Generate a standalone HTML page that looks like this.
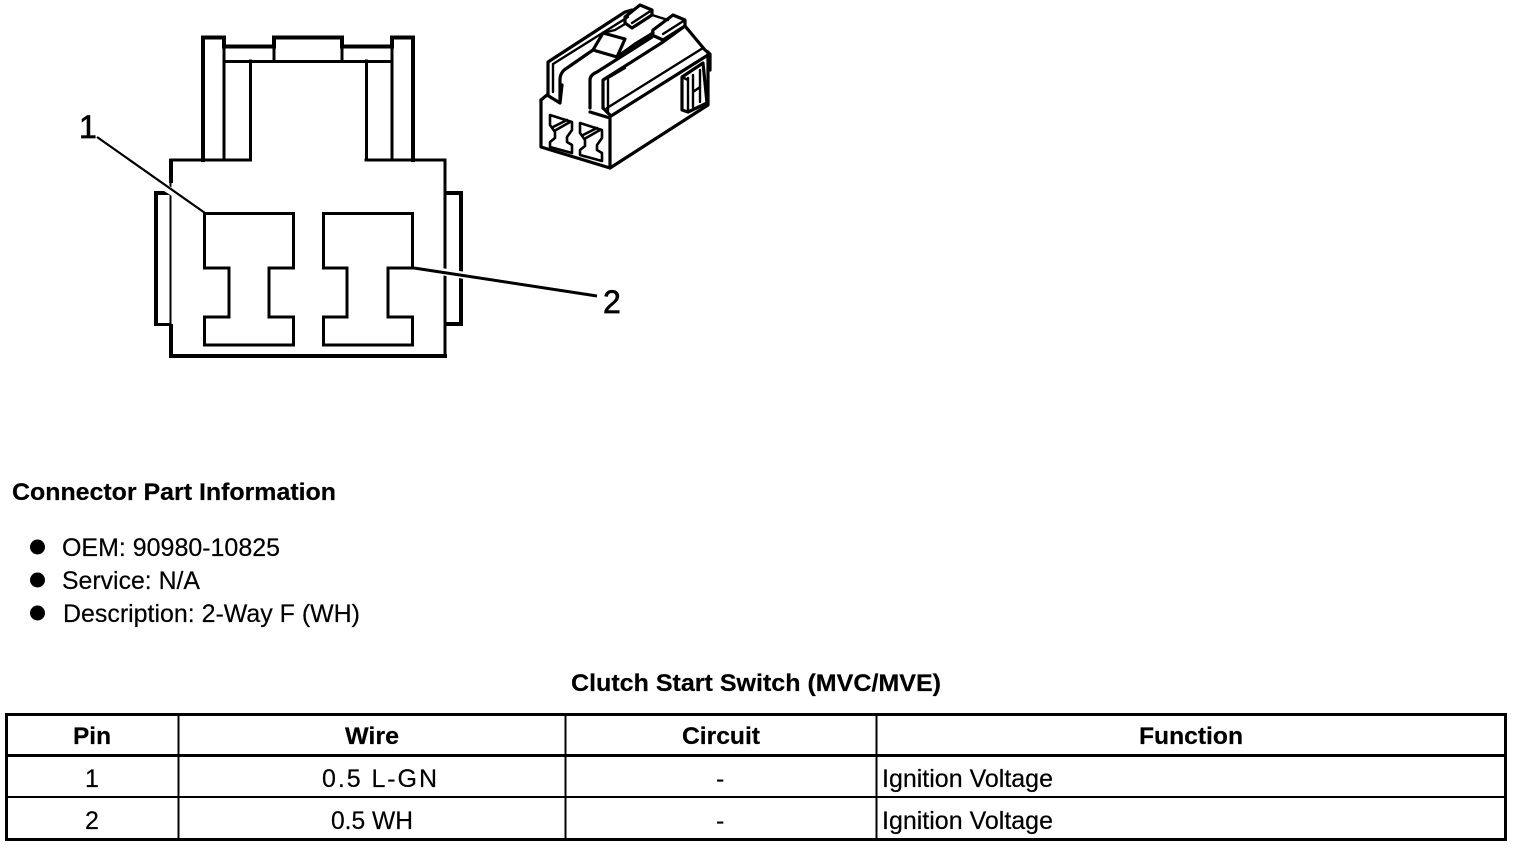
<!DOCTYPE html>
<html><head><meta charset="utf-8"><style>
html,body{margin:0;padding:0;background:#fff;width:1520px;height:848px;overflow:hidden}
svg{display:block}
text{font-family:"Liberation Sans",sans-serif;fill:#000;font-size:25px;stroke:#000;stroke-width:.2px}
.b{font-weight:bold;font-size:24px}
.n{font-size:32px;stroke-width:.7px}
</style></head><body>
<svg width="1520" height="848" viewBox="0 0 1520 848" xmlns="http://www.w3.org/2000/svg">
<rect width="1520" height="848" fill="#fff"/>
<!-- connector front view -->
<g fill="none" stroke="#000" stroke-linecap="square" stroke-linejoin="miter" shape-rendering="crispEdges">
<path stroke-width="4" d="M203 160V37.500H224V46.500H274V37.500H342V46.500H392V37.500H413V160"/>
<path stroke-width="3" d="M224 46V160M392 46V160M224 61.500H392M274 37V61M342 37V61M250.500 61V160M366.500 61V160"/>
<path stroke-width="3" d="M171 160H250M366 160H445V356"/>
<path stroke-width="4" d="M171 161V181M171 326V356H445"/>
<path stroke-width="2" d="M170.500 181V326"/>
<path stroke-width="4" d="M170 193H156V324"/>
<path stroke-width="3" d="M156 324.500H170"/>
<path stroke-width="4" d="M446 193H461V324H446"/>
<path stroke-width="3" d="M204.500 213.500H293.500V268H269V317H293.500V345H204.500V317H229V268H204.500Z"/>
<path stroke-width="3" d="M323.500 213.500H412.500V268H388V317H412.500V345H323.500V317H347V268H323.500Z"/>
</g>
<g fill="none" stroke-linecap="butt">
<path stroke="#fff" stroke-width="7" d="M150 178L185 200M438 271L468 276"/>
<path stroke="#000" stroke-width="2.200" d="M97 137L205 213"/>
<path stroke="#000" stroke-width="3" d="M414 268L597 296"/>
</g>
<text class="n" x="79" y="138">1</text>
<text class="n" x="603" y="313">2</text>
<!-- 3D connector -->
<g fill="none" stroke="#000" stroke-width="3.200" stroke-linejoin="round" stroke-linecap="round">
<path d="M541 100V147L610 168V118L590 112"/>
<path d="M541 100L547 95L560 103L562 85"/>
<path d="M610 168L708 105V52"/>
<path d="M548 95V62L625 12L632 10"/>
<path stroke-width="2.400" d="M553 92V64L628 17"/>
<path d="M560 100V80Q560 72 567 68L593 50L603 33L625 39L617 57L593 50M617 57L635 44L653 33"/>
<path stroke-width="2.400" d="M603 33L615 30L625 24"/>
<path d="M590 108V80Q590 75 597 72L652 37"/>
<path d="M603 108V80L663 42L685 26"/>
<path stroke-width="2.400" d="M608 112V78L625 68"/>
<path d="M603 108L611 116L708 55"/>
<path stroke-width="2.400" d="M607 108L703 48"/>
<path d="M625 17L640 5L652 10V15L632 28L625 23Z"/>
<path stroke-width="2.400" d="M632 23L652 10M652 15L668 20"/>
<path d="M653 30L673 15L685 20V26L663 40L652 35Z"/>
<path stroke-width="2.400" d="M663 34L685 20"/>
<path d="M685 26L705 50L710 54V70"/>
<path d="M682 77L703 63L707 103L688 112L682 110Z"/>
<path stroke-width="2.400" d="M688 78V112M693 75V107M700 70V102M693 92L700 87M682 77L688 80"/>
<path stroke-width="2.600" d="M550 115L572 122V130L567 137V142L572 145V153L550 147V142L555 138V132L550 125ZM553 127L567 120M556 130L570 122"/>
<path stroke-width="2.600" d="M580 123L602 130V138L597 145V150L602 153V161L580 155V150L585 146V140L580 133ZM583 135L597 128M586 138L600 130"/>
</g>
<!-- text -->
<text class="b" x="12" y="500" textLength="324" lengthAdjust="spacingAndGlyphs">Connector Part Information</text>
<circle cx="37.500" cy="547" r="7.500"/><circle cx="37.500" cy="580" r="7.500"/><circle cx="37.500" cy="613" r="7.500"/>
<text x="62" y="556" textLength="218" lengthAdjust="spacingAndGlyphs">OEM: 90980-10825</text>
<text x="62" y="589" textLength="138" lengthAdjust="spacingAndGlyphs">Service: N/A</text>
<text x="63" y="622" textLength="297" lengthAdjust="spacingAndGlyphs">Description: 2-Way F (WH)</text>
<text class="b" x="571" y="691" textLength="370" lengthAdjust="spacingAndGlyphs">Clutch Start Switch (MVC/MVE)</text>
<!-- table -->
<g fill="none" stroke="#000" shape-rendering="crispEdges">
<rect x="6.500" y="714.500" width="1499" height="125" stroke-width="3"/>
<path stroke-width="2" d="M178.500 714V839M565.500 714V839M876.500 714V839M6 797H1506"/>
<path stroke-width="3" d="M6 755.500H1506"/>
</g>
<text class="b" x="73" y="744" textLength="38" lengthAdjust="spacingAndGlyphs">Pin</text>
<text class="b" x="345" y="744" textLength="54" lengthAdjust="spacingAndGlyphs">Wire</text>
<text class="b" x="682" y="744" textLength="78" lengthAdjust="spacingAndGlyphs">Circuit</text>
<text class="b" x="1139" y="744" textLength="104" lengthAdjust="spacingAndGlyphs">Function</text>
<text x="85" y="787">1</text>
<text x="322" y="787" textLength="115" lengthAdjust="spacing">0.5 L-GN</text>
<text x="716" y="787">-</text>
<text x="882" y="787" textLength="171" lengthAdjust="spacingAndGlyphs">Ignition Voltage</text>
<text x="85" y="829">2</text>
<text x="331" y="829" textLength="82" lengthAdjust="spacingAndGlyphs">0.5 WH</text>
<text x="716" y="829">-</text>
<text x="882" y="829" textLength="171" lengthAdjust="spacingAndGlyphs">Ignition Voltage</text>
</svg>
</body></html>
